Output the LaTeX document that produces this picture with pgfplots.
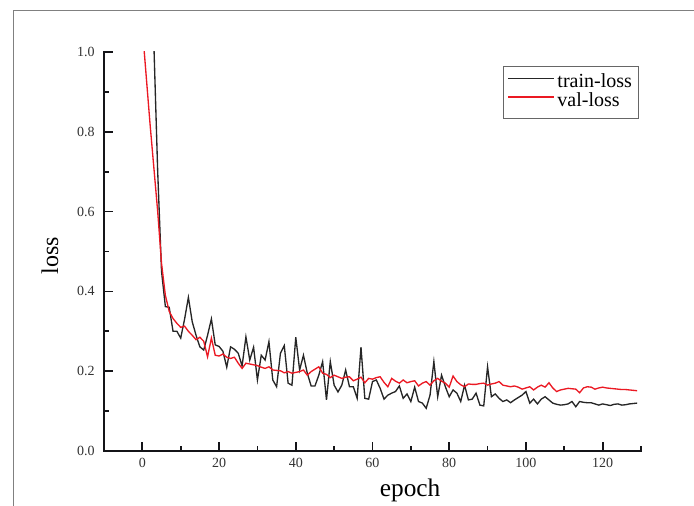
\documentclass[border=0pt]{standalone}
\usepackage{fontspec}
\setmainfont{Liberation Serif}
\usepackage{pgfplots}
\pgfplotsset{compat=1.18}
\definecolor{tickcol}{RGB}{20,20,24}
\definecolor{valred}{RGB}{235,25,35}

\begin{document}
\begin{tikzpicture}
\begin{axis}[
  name=ax,
  scale only axis,
  width=402.75pt, height=299.25pt,
  xmin=-10, xmax=130, ymin=0, ymax=1,
  axis line style={draw=none},
  xtick pos=left, ytick pos=left,
  tick align=inside,
  major tick length=0pt, minor tick length=0pt,
  tick style={draw=none},
  xtick={0,20,...,120},
  ytick={0,0.2,...,1.0},
  /pgf/number format/assume math mode=true,
  tick label style={font=\fontsize{10.5}{12}\selectfont, black!80},
  yticklabel style={xshift=-3.5pt, /pgf/number format/fixed, /pgf/number format/fixed zerofill, /pgf/number format/precision=1},
  xticklabel style={yshift=-1.5pt},
  xlabel={epoch}, ylabel={loss},
  every axis x label/.style={at={(axis description cs:0.57,0)}, anchor=base, yshift=-34.5pt, font=\fontsize{19}{22}\selectfont},
  every axis y label/.style={at={([xshift=-40.5pt]axis description cs:0,0.49)}, anchor=center, rotate=90, font=\fontsize{18}{22}\selectfont},
  legend style={at={(rel axis cs:0.996,0.965)}, anchor=north east, draw=black!60,
    font=\fontsize{15}{15}\selectfont, inner xsep=3pt, inner ysep=5.5pt,
    nodes={inner xsep=2pt, inner ysep=0pt, text height=10.5pt, text depth=3.5pt},
    cells={anchor=west}},
  legend image code/.code={\draw[#1] (0pt,3.5pt) -- (34.5pt,3.5pt);},
]
\addplot[black!85, line width=1pt] coordinates {
(3,1.02) (4,0.70) (5,0.45) (6,0.362) (7,0.36) (8,0.30) (9,0.30) (10,0.283)
(11,0.33) (12,0.385) (13,0.324) (14,0.29) (15,0.261) (16,0.253) (17,0.29) (18,0.331)
(19,0.266) (20,0.262) (21,0.25) (22,0.21) (23,0.261) (24,0.255) (25,0.245) (26,0.213)
(27,0.286) (28,0.228) (29,0.26) (30,0.178) (31,0.24) (32,0.228) (33,0.274) (34,0.178)
(35,0.161) (36,0.245) (37,0.264) (38,0.17) (39,0.165) (40,0.285) (41,0.203) (42,0.24)
(43,0.195) (44,0.163) (45,0.163) (46,0.19) (47,0.224) (48,0.128) (49,0.224) (50,0.165)
(51,0.148) (52,0.165) (53,0.203) (54,0.161) (55,0.161) (56,0.132) (57,0.26) (58,0.132)
(59,0.13) (60,0.174) (61,0.178) (62,0.157) (63,0.13) (64,0.14) (65,0.145) (66,0.149)
(67,0.163) (68,0.132) (69,0.143) (70,0.124) (71,0.16) (72,0.124) (73,0.12) (74,0.107)
(75,0.14) (76,0.224) (77,0.136) (78,0.19) (79,0.161) (80,0.136) (81,0.153) (82,0.145)
(83,0.124) (84,0.165) (85,0.128) (86,0.13) (87,0.145) (88,0.115) (89,0.113) (90,0.211)
(91,0.136) (92,0.143) (93,0.132) (94,0.124) (95,0.128) (96,0.121) (97,0.128) (98,0.134)
(99,0.14) (100,0.149) (101,0.12) (102,0.13) (103,0.118) (104,0.13) (105,0.136) (106,0.128)
(107,0.12) (108,0.117) (109,0.115) (110,0.116) (111,0.118) (112,0.124) (113,0.111) (114,0.124)
(115,0.122) (116,0.121) (117,0.121) (118,0.118) (119,0.115) (120,0.118) (121,0.116) (122,0.114)
(123,0.117) (124,0.118) (125,0.115) (126,0.116) (127,0.118) (128,0.119) (129,0.12)
};
\addlegendentry{train-loss}
\addplot[valred, line width=1pt] coordinates {
(0,1.06) (1,0.94) (2,0.82) (3,0.71) (4,0.60) (5,0.47) (6,0.39) (7,0.35)
(8,0.332) (9,0.32) (10,0.31) (11,0.313) (12,0.30) (13,0.29) (14,0.279) (15,0.285)
(16,0.275) (17,0.236) (18,0.283) (19,0.24) (20,0.238) (21,0.243) (22,0.235) (23,0.232)
(24,0.235) (25,0.22) (26,0.207) (27,0.22) (28,0.218) (29,0.216) (30,0.214) (31,0.21)
(32,0.207) (33,0.211) (34,0.203) (35,0.202) (36,0.201) (37,0.196) (38,0.199) (39,0.195)
(40,0.197) (41,0.199) (42,0.203) (43,0.19) (44,0.199) (45,0.205) (46,0.211) (47,0.195)
(48,0.192) (49,0.184) (50,0.19) (51,0.186) (52,0.182) (53,0.185) (54,0.186) (55,0.176)
(56,0.18) (57,0.185) (58,0.171) (59,0.182) (60,0.18) (61,0.184) (62,0.186) (63,0.172)
(64,0.161) (65,0.182) (66,0.175) (67,0.17) (68,0.178) (69,0.171) (70,0.174) (71,0.176)
(72,0.163) (73,0.17) (74,0.174) (75,0.165) (76,0.176) (77,0.182) (78,0.175) (79,0.17)
(80,0.16) (81,0.188) (82,0.174) (83,0.166) (84,0.161) (85,0.168) (86,0.167) (87,0.167)
(88,0.169) (89,0.17) (90,0.165) (91,0.168) (92,0.17) (93,0.174) (94,0.165) (95,0.163)
(96,0.161) (97,0.163) (98,0.16) (99,0.155) (100,0.158) (101,0.161) (102,0.153) (103,0.16)
(104,0.165) (105,0.16) (106,0.171) (107,0.158) (108,0.149) (109,0.153) (110,0.155) (111,0.157)
(112,0.156) (113,0.155) (114,0.146) (115,0.158) (116,0.161) (117,0.16) (118,0.155) (119,0.158)
(120,0.16) (121,0.158) (122,0.157) (123,0.156) (124,0.155) (125,0.154) (126,0.154) (127,0.153)
(128,0.152) (129,0.151)
};
\addlegendentry{val-loss}
\end{axis}
% inward ticks along the bottom and left axis lines
% x: 402.75pt for 140 units -> 2.876786pt per unit, epoch 0 sits 10 units from the left
\foreach \e in {0,20,...,120}
  \draw[tickcol, line width=1.3pt] ([xshift={(\e+10)*2.876786pt}]ax.south west) -- ++(0,6.5pt);
\foreach \e in {10,30,...,130}
  \draw[tickcol, line width=1.3pt] ([xshift={(\e+10)*2.876786pt}]ax.south west) -- ++(0,3.5pt);
% y: 299.25pt for 1.0
\foreach \k in {0,1,...,5}
  \draw[tickcol, line width=1.3pt] ([yshift={\k*59.85pt}]ax.south west) -- ++(6.5pt,0);
\foreach \k in {0,1,...,4}
  \draw[tickcol, line width=1.3pt] ([yshift={(\k+0.5)*59.85pt}]ax.south west) -- ++(3.5pt,0);
% left and bottom axis lines
\draw[tickcol, line width=1.2pt, line cap=rect] (ax.north west) -- (ax.south west) -- (ax.south east);
% outer frame (top and left edges only, as in the reference)
\draw[black!50, line width=0.75pt]
  ([shift={(-67.5pt,-41.25pt)}]ax.south west) -- ([shift={(-67.5pt,330pt)}]ax.south west)
  -- ([shift={(442.5pt,330pt)}]ax.south west);
\pgfresetboundingbox
\path[use as bounding box] ([shift={(-78pt,-41.25pt)}]ax.south west) rectangle ++(520.5pt,379.5pt);
\end{tikzpicture}
\end{document}
